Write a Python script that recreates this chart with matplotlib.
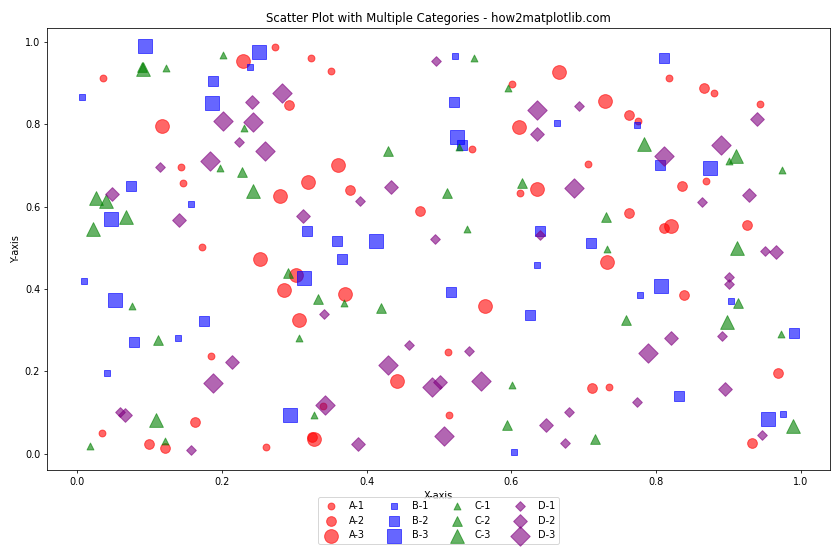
import matplotlib
matplotlib.use("Agg")
import matplotlib.pyplot as plt

# category A (red circles)
a1_x = [0.036, 0.274, 0.323, 0.351, 0.601, 0.546, 0.706, 0.818, 0.880, 0.943, 0.775, 0.143,
        0.147, 0.172, 0.612, 0.869, 0.185, 0.034, 0.340, 0.261, 0.513, 0.735, 0.514]
a1_y = [0.912, 0.987, 0.960, 0.929, 0.898, 0.740, 0.703, 0.912, 0.875, 0.849, 0.808, 0.696,
        0.657, 0.502, 0.633, 0.662, 0.237, 0.050, 0.117, 0.016, 0.247, 0.162, 0.094]
a2_x = [0.293, 0.763, 0.866, 0.377, 0.474, 0.763, 0.835, 0.811, 0.925, 0.838, 0.163, 0.100,
        0.122, 0.325, 0.711, 0.968, 0.932]
a2_y = [0.846, 0.822, 0.888, 0.640, 0.589, 0.584, 0.650, 0.548, 0.555, 0.385, 0.077, 0.024,
        0.014, 0.040, 0.160, 0.196, 0.026]
a3_x = [0.229, 0.118, 0.361, 0.666, 0.729, 0.610, 0.319, 0.281, 0.253, 0.303, 0.286, 0.370,
        0.307, 0.635, 0.732, 0.564, 0.821, 0.442, 0.328]
a3_y = [0.954, 0.795, 0.701, 0.926, 0.856, 0.793, 0.660, 0.625, 0.473, 0.434, 0.397, 0.388,
        0.325, 0.642, 0.465, 0.358, 0.553, 0.176, 0.036]

# category B (blue squares)
b1_x = [0.007, 0.239, 0.522, 0.663, 0.774, 0.158, 0.009, 0.635, 0.778, 0.903, 0.140, 0.042,
        0.604, 0.975]
b1_y = [0.866, 0.939, 0.965, 0.803, 0.798, 0.606, 0.419, 0.458, 0.385, 0.371, 0.281, 0.196,
        0.004, 0.096]
b2_x = [0.188, 0.521, 0.532, 0.811, 0.805, 0.075, 0.176, 0.317, 0.359, 0.366, 0.639, 0.710,
        0.517, 0.626, 0.079, 0.990, 0.831]
b2_y = [0.905, 0.854, 0.749, 0.960, 0.701, 0.650, 0.322, 0.541, 0.516, 0.473, 0.541, 0.511,
        0.392, 0.337, 0.271, 0.293, 0.140]
b3_x = [0.094, 0.187, 0.252, 0.525, 0.874, 0.047, 0.053, 0.413, 0.314, 0.807, 0.294, 0.954]
b3_y = [0.990, 0.851, 0.975, 0.769, 0.694, 0.570, 0.373, 0.516, 0.426, 0.407, 0.094, 0.084]

# category C (green triangles)
c1_x = [0.123, 0.202, 0.231, 0.198, 0.548, 0.595, 0.528, 0.900, 0.974, 0.076, 0.369, 0.539,
        0.732, 0.307, 0.018, 0.122, 0.328, 0.601, 0.972]
c1_y = [0.937, 0.969, 0.791, 0.694, 0.961, 0.888, 0.744, 0.712, 0.690, 0.358, 0.366, 0.545,
        0.498, 0.280, 0.018, 0.031, 0.095, 0.168, 0.291]
c2_x = [0.090, 0.228, 0.430, 0.292, 0.333, 0.420, 0.615, 0.511, 0.731, 0.758, 0.913, 0.112,
        0.594, 0.715]
c2_y = [0.939, 0.684, 0.736, 0.439, 0.375, 0.355, 0.657, 0.634, 0.574, 0.325, 0.367, 0.277,
        0.069, 0.036]
c3_x = [0.091, 0.783, 0.910, 0.026, 0.040, 0.067, 0.022, 0.243, 0.911, 0.898, 0.109, 0.989]
c3_y = [0.934, 0.752, 0.724, 0.620, 0.614, 0.574, 0.547, 0.638, 0.500, 0.320, 0.082, 0.068]

# category D (purple diamonds)
d1_x = [0.496, 0.224, 0.115, 0.693, 0.391, 0.495, 0.639, 0.863, 0.951, 0.900, 0.900, 0.341,
        0.060, 0.158, 0.459, 0.541, 0.774, 0.680, 0.674, 0.891, 0.946]
d1_y = [0.953, 0.757, 0.696, 0.844, 0.613, 0.521, 0.531, 0.611, 0.492, 0.430, 0.412, 0.340,
        0.101, 0.009, 0.264, 0.249, 0.125, 0.101, 0.026, 0.286, 0.045]
d2_x = [0.242, 0.635, 0.939, 0.048, 0.141, 0.434, 0.312, 0.928, 0.966, 0.214, 0.066, 0.502,
        0.388, 0.648, 0.820, 0.895]
d2_y = [0.854, 0.777, 0.812, 0.630, 0.567, 0.647, 0.577, 0.628, 0.490, 0.223, 0.093, 0.175,
        0.024, 0.070, 0.281, 0.157]
d3_x = [0.201, 0.184, 0.283, 0.243, 0.260, 0.635, 0.889, 0.811, 0.686, 0.188, 0.430, 0.490,
        0.343, 0.507, 0.558, 0.789]
d3_y = [0.808, 0.710, 0.875, 0.805, 0.735, 0.834, 0.749, 0.722, 0.645, 0.172, 0.215, 0.162,
        0.119, 0.044, 0.176, 0.244]

categories = ['A', 'B', 'C', 'D']
colors = ['red', 'blue', 'green', 'purple']
markers = ['o', 's', '^', 'D']
sizes = [50, 100, 200]
series = [
    [(a1_x, a1_y), (a2_x, a2_y), (a3_x, a3_y)],
    [(b1_x, b1_y), (b2_x, b2_y), (b3_x, b3_y)],
    [(c1_x, c1_y), (c2_x, c2_y), (c3_x, c3_y)],
    [(d1_x, d1_y), (d2_x, d2_y), (d3_x, d3_y)],
]

fig, ax = plt.subplots(figsize=(12, 8), dpi=70)
fig.subplots_adjust(left=0.056, right=0.988, top=0.95, bottom=0.161)

for cat, color, marker, groups in zip(categories, colors, markers, series):
    for i, (xs, ys) in enumerate(groups):
        ax.scatter(xs, ys, c=color, marker=marker, s=sizes[i], alpha=0.6,
                   label=f'{cat}-{i + 1}')

ax.set_xlim(-0.0414, 1.040)
ax.set_ylim(-0.039, 1.034)
ax.set_title('Scatter Plot with Multiple Categories - how2matplotlib.com')
ax.set_xlabel('X-axis')
ax.set_ylabel('Y-axis')
ax.legend(loc='upper center', bbox_to_anchor=(0.5, -0.05), ncol=4)

fig.savefig('out.png', dpi=70)
